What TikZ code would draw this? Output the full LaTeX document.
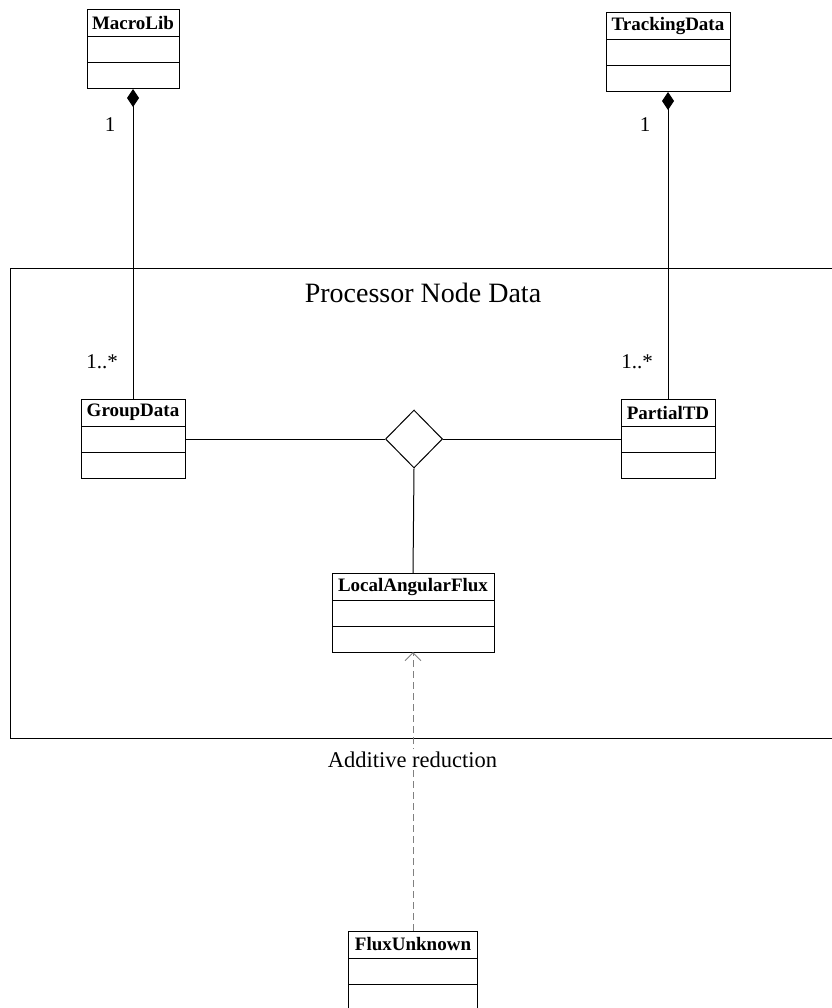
\documentclass[tikz,border=0pt]{standalone}
\usepackage{fontspec}
\setmainfont{Liberation Serif}
\usetikzlibrary{positioning,shapes.geometric,arrows.meta}

\tikzset{
  kopf/.style={draw, line width=1pt, inner sep=0pt, outer sep=0pt, minimum height=27pt,
    font=\fontsize{19}{22}\selectfont\bfseries},
  feld/.style={draw, line width=1pt, inner sep=0pt, outer sep=0pt, minimum height=26pt},
  mult/.style={anchor=base, font=\fontsize{21}{24}\selectfont},
  linie/.style={line width=1pt},
}

% Klasse: Name, x, oben, Breite, Text
\newcommand{\klasse}[5]{%
  \node[kopf, minimum width=#4pt, anchor=north] (#1) at (#2,#3) {#5};
  \node[feld, minimum width=#4pt, below=0pt of #1] (#1-a) {};
  \node[feld, minimum width=#4pt, below=0pt of #1-a] (#1-m) {};
}

\begin{document}
\begin{tikzpicture}[x=1pt,y=-1pt]
	\useasboundingbox (0,0) rectangle (831,1008);
	% Paket
	\draw[linie] (10,268) rectangle (850,738);
	\node[anchor=base, font=\fontsize{28}{32}\selectfont] (paket) at (423,302) {Processor Node Data};
	% Klassen
	\klasse{macrolib}{133}{10}{92}{MacroLib}
	\klasse{trackingdata}{668}{13}{124}{TrackingData}
	\klasse{groupdata}{133}{399}{104}{GroupData}
	\klasse{partialtd}{668}{399}{94}{PartialTD}
	\klasse{laf}{413}{573}{162}{LocalAngularFlux}
	\klasse{flux}{413}{931}{129}{FluxUnknown}
	% Assoziation
	\node[draw, diamond, linie, inner sep=0pt, minimum width=57pt, minimum height=58pt] (assoz) at (414,439) {};
	\draw[linie] (groupdata-a.east) -- (assoz.west);
	\draw[linie] (assoz.east) -- (partialtd-a.west);
	\draw[linie] (assoz.south) -- (laf.north);
	% Komposition
	\draw[linie, {Diamond[length=18pt,width=12pt]}-] (macrolib-m.south) -- (groupdata.north);
	\draw[linie, {Diamond[length=18pt,width=12pt]}-] (trackingdata-m.south) -- (partialtd.north);
	\node[mult] (m1) at (110,132) {1};
	\node[mult] (m2) at (645,132) {1};
	\node[mult] (m3) at (102,368) {1..*};
	\node[mult] (m4) at (637,368) {1..*};
	% Abhaengigkeit
	\draw[gray, linie, dash pattern=on 7pt off 4pt, -{Straight Barb[length=8pt,width=16pt]}] (flux.north) -- (laf-m.south);
	\node[mult, fill=white, inner sep=2pt, font=\fontsize{22.5}{26}\selectfont] (red) at (412.5,767) {Additive reduction};
\end{tikzpicture}
\end{document}
